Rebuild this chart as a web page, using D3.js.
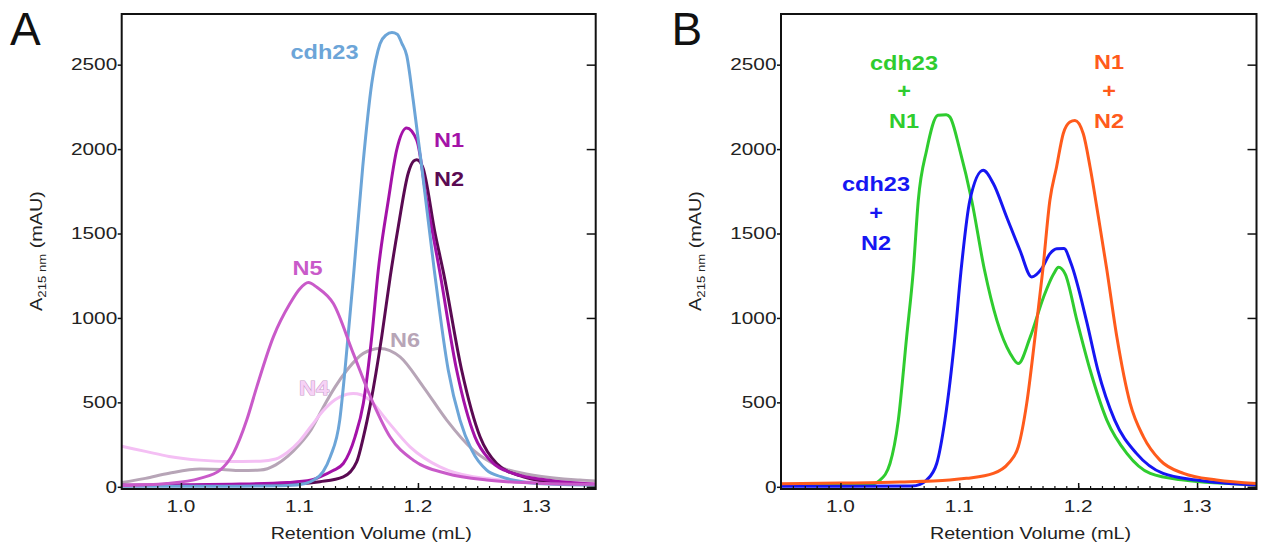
<!DOCTYPE html>
<html>
<head>
<meta charset="utf-8">
<script src="https://cdn.jsdelivr.net/npm/d3@7"></script>
<style>
  html, body { margin: 0; padding: 0; background: #fff; }
  svg { display: block; font-family: "Liberation Sans", Arial, Helvetica, sans-serif; }
</style>
</head>
<body>
<svg id="chart" width="1267" height="553"></svg>
<script>
// Axis ticks
const volumeTicks = [1.0, 1.1, 1.2, 1.3];
const absorbanceTicks = [0, 500, 1000, 1500, 2000, 2500];
const volumeDomain = [0.95, 1.35];
const absorbanceDomain = [-13, 2800];

// Panel A: single proteins, [retention volume (mL), A215 (mAU)]
const cdh23 = [[0.95,3],[1.0,3],[1.05,4],[1.09,8],[1.105,20],[1.112,40],[1.12,90],[1.126,178],[1.134,395],[1.1384,690],[1.146,1282],[1.1534,1894],[1.161,2388],[1.168,2624],[1.173,2675],[1.178,2690],[1.1825,2680],[1.1865,2625],[1.1905,2555],[1.196,2289],[1.2032,1894],[1.2138,1282],[1.2256,690],[1.2355,395],[1.2454,217],[1.258,99],[1.27,60],[1.28,40],[1.3,20],[1.35,10]];
const n1 = [[0.95,10],[1.0,12],[1.05,16],[1.09,25],[1.11,40],[1.1173,59],[1.128,95],[1.137,138],[1.1469,296],[1.1539,494],[1.161,888],[1.1665,1282],[1.175,1697],[1.182,1993],[1.1905,2125],[1.199,2052],[1.2074,1697],[1.2185,1270],[1.2327,690],[1.2481,296],[1.2608,158],[1.2805,79],[1.3086,40],[1.35,15]];
const n2 = [[0.95,6],[1.0,8],[1.05,10],[1.1,18],[1.1173,30],[1.137,59],[1.1483,148],[1.154,296],[1.16,494],[1.1694,888],[1.1765,1240],[1.1834,1540],[1.1919,1860],[1.1965,1930],[1.199,1937],[1.204,1894],[1.2145,1500],[1.2215,1270],[1.2369,690],[1.2524,296],[1.2665,138],[1.2889,59],[1.31,30],[1.35,12]];
const n4 = [[0.95,240],[0.97,210],[0.99,180],[1.016,158],[1.04,150],[1.067,152],[1.08,165],[1.09,205],[1.1,270],[1.11,360],[1.12,450],[1.13,515],[1.14,548],[1.1454,553],[1.152,545],[1.1595,513],[1.1736,395],[1.1933,237],[1.2186,118],[1.2467,59],[1.2946,30],[1.35,20]];
const n5 = [[0.95,8],[0.988,20],[1.016,50],[1.033,99],[1.0442,198],[1.0555,395],[1.064,592],[1.078,888],[1.092,1085],[1.1,1170],[1.1075,1210],[1.115,1180],[1.1286,1085],[1.1454,790],[1.1623,494],[1.1764,296],[1.196,158],[1.2243,79],[1.258,40],[1.3086,20],[1.35,15]];
const n6 = [[0.95,25],[0.97,50],[0.99,80],[1.016,105],[1.035,102],[1.05,96],[1.067,99],[1.08,130],[1.09,180],[1.1,250],[1.11,340],[1.12,470],[1.13,590],[1.14,690],[1.1539,790],[1.168,819],[1.1849,769],[1.2045,592],[1.2243,395],[1.2467,217],[1.269,118],[1.2973,69],[1.3367,40],[1.35,35]];

// Panel B: mixtures
const cdh23N1 = [[0.95,8],[1.0,10],[1.025,14],[1.0333,40],[1.0417,138],[1.0487,395],[1.0557,888],[1.0613,1282],[1.0655,1697],[1.0725,1993],[1.082,2200],[1.089,2204],[1.0921,2190],[1.1005,1993],[1.1104,1697],[1.121,1290],[1.1316,986],[1.1428,790],[1.1496,730],[1.1597,888],[1.1709,1124],[1.1793,1260],[1.1835,1300],[1.1891,1260],[1.1989,986],[1.2101,690],[1.2241,395],[1.2409,198],[1.2606,79],[1.2886,40],[1.35,12]];
const cdh23N2 = [[0.95,3],[1.0,3],[1.06,5],[1.067,15],[1.0725,40],[1.081,138],[1.0879,395],[1.0963,888],[1.1013,1270],[1.1089,1697],[1.1201,1874],[1.1286,1796],[1.1398,1598],[1.151,1401],[1.1609,1243],[1.1693,1292],[1.1763,1381],[1.182,1410],[1.188,1411],[1.194,1322],[1.2069,986],[1.2166,690],[1.2307,395],[1.249,198],[1.2714,79],[1.2996,40],[1.35,10]];
const n1N2 = [[0.95,18],[1.0,22],[1.05,28],[1.092,40],[1.106,50],[1.1286,79],[1.1412,138],[1.1496,237],[1.1567,494],[1.1637,888],[1.1702,1282],[1.1762,1697],[1.1818,1894],[1.1874,2091],[1.193,2160],[1.1973,2170],[1.2043,2091],[1.21,1894],[1.217,1598],[1.224,1290],[1.2325,888],[1.2437,494],[1.2549,296],[1.2688,158],[1.2886,79],[1.3164,40],[1.35,20]];

const svg = d3.select("#chart");
const plotTop = 14, plotBottom = 489;

// Draw a horizontally widened text element (the figure's lettering is wide-set)
function addText(g, x, y, str, o) {
  const t = g.append("text")
    .attr("transform", `translate(${x},${y}) scale(${o.sx || 1},1)`)
    .attr("text-anchor", o.anchor || "middle")
    .attr("font-size", o.size)
    .attr("font-weight", o.weight || "normal")
    .attr("fill", o.fill || "#222")
    .text(str);
  if (o.stroke) t.attr("stroke", o.stroke).attr("stroke-width", o.strokeWidth || 0.8).attr("paint-order", "stroke");
  return t;
}

function panel(left, right, letter, letterX, series, labels) {
  const g = svg.append("g");
  const x = d3.scaleLinear().domain(volumeDomain).range([left, right]);
  const y = d3.scaleLinear().domain(absorbanceDomain).range([plotBottom, plotTop]);

  // curves
  const line = d3.line().x(d => x(d[0])).y(d => y(d[1])).curve(d3.curveMonotoneX);
  series.forEach(s => {
    g.append("path").datum(s.data)
      .attr("d", line)
      .attr("fill", "none")
      .attr("stroke", s.color)
      .attr("stroke-width", 3)
      .attr("stroke-linejoin", "round");
  });

  // frame
  g.append("rect").attr("x", left).attr("y", plotTop)
    .attr("width", right - left).attr("height", plotBottom - plotTop)
    .attr("fill", "none").attr("stroke", "#111").attr("stroke-width", 2);

  // left ticks (outward)
  g.append("g").attr("transform", `translate(${left},0)`)
    .call(d3.axisLeft(y).tickValues(absorbanceTicks).tickSize(4).tickFormat(""))
    .call(a => a.select(".domain").remove())
    .selectAll("line").attr("stroke", "#111").attr("stroke-width", 1.5);
  // right ticks (inward)
  g.append("g").attr("transform", `translate(${right},0)`)
    .call(d3.axisLeft(y).tickValues(absorbanceTicks).tickSize(9).tickFormat(""))
    .call(a => a.select(".domain").remove())
    .selectAll("line").attr("stroke", "#111").attr("stroke-width", 1.5);
  // bottom ticks (inward): minor every 0.01, major every 0.1
  const minor = d3.range(96, 135).map(v => v / 100);
  g.append("g").attr("transform", `translate(0,${plotBottom})`)
    .call(d3.axisTop(x).tickValues(minor).tickSize(3).tickFormat(""))
    .call(a => a.select(".domain").remove())
    .selectAll("line").attr("stroke", "#111").attr("stroke-width", 1.2);
  g.append("g").attr("transform", `translate(0,${plotBottom})`)
    .call(d3.axisTop(x).tickValues(volumeTicks).tickSize(6).tickFormat(""))
    .call(a => a.select(".domain").remove())
    .selectAll("line").attr("stroke", "#111").attr("stroke-width", 1.5);

  // tick labels
  absorbanceTicks.forEach(v => addText(g, left - 4.5, y(v) + 5.7, String(v), {size: 16, sx: 1.3, anchor: "end"}));
  volumeTicks.forEach(v => addText(g, x(v), 511.5, d3.format(".1f")(v), {size: 16, sx: 1.3}));

  // axis titles
  addText(g, left + 249.5, 539, "Retention Volume (mL)", {size: 16, sx: 1.23});
  const yt = g.append("text")
    .attr("transform", `translate(${left - 80},251) rotate(-90) scale(1.2,1)`)
    .attr("text-anchor", "middle").attr("font-size", 16.5).attr("fill", "#222");
  yt.append("tspan").text("A");
  yt.append("tspan").attr("font-size", 11).attr("dy", 4).text("215 nm");
  yt.append("tspan").attr("dy", -4).text(" (mAU)");

  // panel letter
  svg.append("text").attr("x", letterX).attr("y", 45)
    .attr("font-size", 46).attr("fill", "#111").text(letter);

  // series labels
  labels.forEach(l => {
    l.lines.forEach((str, i) => addText(g, l.x, l.y[i], str,
      {size: 21, sx: 1.12, weight: "bold", fill: l.fill, stroke: l.stroke, strokeWidth: 1}));
  });
}

panel(121.7, 595.7, "A", 10, [
  {data: n6, color: "#b7a5b7"},
  {data: n4, color: "#f4bff4"},
  {data: n2, color: "#5a0a52"},
  {data: n1, color: "#a412a8"},
  {data: cdh23, color: "#6ca5d8"},
  {data: n5, color: "#c95ac9"}
], [
  {lines: ["cdh23"], x: 324.5, y: [59], fill: "#6ca5d8"},
  {lines: ["N1"], x: 449, y: [147], fill: "#a412a8"},
  {lines: ["N2"], x: 449, y: [186], fill: "#5a0a52"},
  {lines: ["N5"], x: 307.5, y: [275], fill: "#c95ac9"},
  {lines: ["N6"], x: 405, y: [347], fill: "#b7a5b7"},
  {lines: ["N4"], x: 314, y: [395], fill: "#f6d2f6", stroke: "#c99ac9"}
]);

panel(781, 1256.5, "B", 671.5, [
  {data: cdh23N1, color: "#2fcc2f"},
  {data: cdh23N2, color: "#1616f2"},
  {data: n1N2, color: "#ff5b1c"}
], [
  {lines: ["cdh23", "+", "N1"], x: 904, y: [69.5, 98, 128], fill: "#2fcc2f"},
  {lines: ["cdh23", "+", "N2"], x: 876, y: [191, 220, 249.5], fill: "#1616f2"},
  {lines: ["N1", "+", "N2"], x: 1109, y: [68.5, 98, 128], fill: "#ff5b1c"}
]);
</script>
</body>
</html>
